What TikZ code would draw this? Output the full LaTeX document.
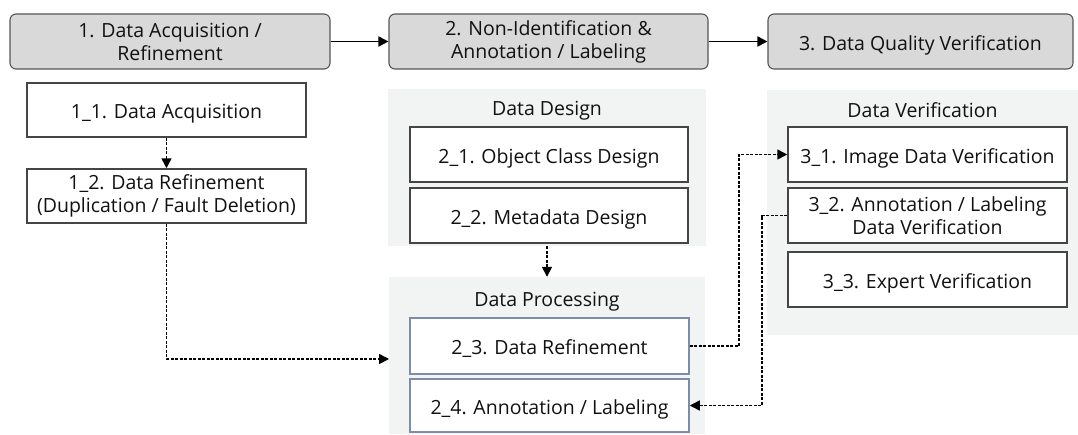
\documentclass[tikz,border=0pt]{standalone}
\usepackage{fontspec}
\setmainfont{Open Sans}
\usetikzlibrary{arrows.meta,calc}
\definecolor{hdrfill}{HTML}{D9D9D9}
\definecolor{hdrline}{HTML}{555555}
\definecolor{panelfill}{HTML}{F2F3F3}
\definecolor{boxline}{HTML}{454545}
\definecolor{blueline}{HTML}{7D8CA8}
\definecolor{txt}{HTML}{111111}
\begin{document}
\begin{tikzpicture}[x=1pt,y=-1pt,
  every node/.style={text=txt, font=\fontsize{19.5}{23}\selectfont, align=center, inner sep=0pt},
  one/.style={text height=17pt, text depth=0pt},
  hdr/.style={draw=hdrline, fill=hdrfill, rounded corners=6pt, line width=1.1pt},
  wbox/.style={draw=boxline, fill=white, line width=1.5pt},
  bbox/.style={draw=blueline, fill=white, line width=1.5pt},
  panel/.style={fill=panelfill, draw=none},
  solidarrow/.style={line width=1.8pt, -{Triangle[length=10pt,width=10pt]}},
  dasharrow/.style={line width=1.5pt, dash pattern=on 3pt off 1.5pt, -{Triangle[length=10pt,width=10pt]}}
]
\useasboundingbox (0,0) rectangle (1078,434);
\fill[white] (0,0) rectangle (1078,434);

% panels
\node[panel, minimum width=318, minimum height=157] (dd) at (547,167.5) {};
\node[panel, minimum width=316, minimum height=157] (dp) at (547,355.5) {};
\node[panel, minimum width=311, minimum height=245] (dv) at (922.5,212.5) {};
\node[one] (ddt) at (547,106.5) {Data Design};
\node[one] (dpt) at (547,298) {Data Processing};
\node[one] (dvt) at (922.5,109) {Data Verification};

% header boxes
\node[hdr, minimum width=320, minimum height=55] (h1) at (170,41.5) {1. Data Acquisition /\\Refinement};
\node[hdr, minimum width=319, minimum height=55] (h2) at (548.5,41.5) {2. Non-Identification \&\\Annotation / Labeling};
\node[hdr, one, minimum width=305, minimum height=55] (h3) at (920.5,41.5) {3. Data Quality Verification};

% column 1
\node[wbox, one, minimum width=279, minimum height=54] (n11) at (166.5,110) {1\_1. Data Acquisition};
\node[wbox, minimum width=279, minimum height=54] (n12) at (166.5,196) {1\_2. Data Refinement\\(Duplication / Fault Deletion)};

% column 2
\node[wbox, one, minimum width=278, minimum height=55] (n21) at (549,154.5) {2\_1. Object Class Design};
\node[wbox, one, minimum width=278, minimum height=55] (n22) at (549,215.5) {2\_2. Metadata Design};
\node[bbox, one, minimum width=279, minimum height=56] (n23) at (549.5,346) {2\_3. Data Refinement};
\node[bbox, one, minimum width=279, minimum height=53] (n24) at (549.5,405.5) {2\_4. Annotation / Labeling};

% column 3
\node[wbox, one, minimum width=279, minimum height=55] (n31) at (927.5,154.5) {3\_1. Image Data Verification};
\node[wbox, minimum width=279, minimum height=55] (n32) at (927.5,215.5) {3\_2. Annotation / Labeling\\Data Verification};
\node[wbox, one, minimum width=279, minimum height=55] (n33) at (927.5,279.5) {3\_3. Expert Verification};

% connectors
\draw[solidarrow] (h1) -- (h2);
\draw[solidarrow] (h2) -- (h3);
\draw[dasharrow] (n11) -- (n12);
\coordinate (dpin) at (389,359);
\draw[dasharrow] (n12.south) |- (dpin);
\draw[dasharrow] (dd.south) -- (dp.north);
\coordinate (j1) at (739,0);
\coordinate (j2) at (762,0);
\draw[dasharrow] (n23.east) -- (n23.east -| j1) |- (n31.west);
\draw[dasharrow] (n32.west) -- (n32.west -| j2) |- (n24.east);
\end{tikzpicture}
\end{document}
